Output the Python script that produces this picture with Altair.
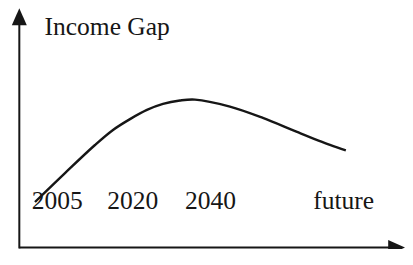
import altair as alt
import pandas as pd

# Curve (abstract units: 0-100 on both axes)
curve_x = [6.8, 14.36, 21.91, 26.45, 30.73, 35.0, 39.04, 43.3, 47.1, 55.9, 64.2, 72.8, 81.1, 85.1]
curve_y = [19.5, 31.5, 43.15, 49.4, 53.9, 57.7, 60.2, 61.6, 62.0, 59.1, 54.4, 48.6, 43.2, 40.9]

# Timeline labels and where they sit along x (same units)
tick_labels = ["2005", "2020", "2040", "future"]
tick_pos = [6.0, 25.0, 44.6, 76.9]
tick_row = 16.5

title_text = "Income Gap"
title_pos = (9.2, 88.8)

origin = (2.85, 0.62)
x_end = 97.0
y_end = 96.35
x_arrow = 97.9

FONT = "Liberation Serif"
INK = "#161616"

xs = alt.Scale(domain=[0, 100], nice=False, zero=False)
ys = alt.Scale(domain=[0, 100], nice=False, zero=False)

def X(f):
    return alt.X(f, type="quantitative", scale=xs, axis=None)

def Y(f):
    return alt.Y(f, type="quantitative", scale=ys, axis=None)

curve_df = pd.DataFrame({"x": curve_x, "y": curve_y})
curve = alt.Chart(curve_df).mark_line(
    color=INK, strokeWidth=2.4, interpolate="catmull-rom"
).encode(x=X("x"), y=Y("y"))

axes_df = pd.DataFrame({
    "x": [origin[0], origin[0]],
    "y": [origin[1] - 0.4, origin[1]],
    "x2": [origin[0], x_end],
    "y2": [y_end, origin[1]],
})
axes = alt.Chart(axes_df).mark_rule(color=INK, strokeWidth=2).encode(
    x=X("x"), y=Y("y"), x2="x2", y2="y2"
)

up_df = pd.DataFrame({"x": [origin[0]], "y": [y_end]})
up_arrow = alt.Chart(up_df).mark_point(
    shape="M0,-1L0.88,1L-0.88,1Z", filled=True, size=289, color=INK, opacity=1, strokeWidth=0
).encode(x=X("x"), y=Y("y"))

right_df = pd.DataFrame({"x": [x_arrow], "y": [origin[1]]})
right_arrow = alt.Chart(right_df).mark_point(
    shape="M1,0L-1,-0.88L-1,0.88Z", filled=True, size=289, color=INK, opacity=1, strokeWidth=0
).encode(x=X("x"), y=Y("y"))

ticks_df = pd.DataFrame({"label": tick_labels, "x": tick_pos, "y": [tick_row] * len(tick_labels)})
ticks = alt.Chart(ticks_df).mark_text(
    font=FONT, fontSize=25.5, color=INK, align="left", baseline="alphabetic"
).encode(x=X("x"), y=Y("y"), text="label:N")

title_df = pd.DataFrame({"label": [title_text], "x": [title_pos[0]], "y": [title_pos[1]]})
title = alt.Chart(title_df).mark_text(
    font=FONT, fontSize=25.5, color=INK, align="left", baseline="alphabetic"
).encode(x=X("x"), y=Y("y"), text="label:N")

chart = alt.layer(axes, up_arrow, right_arrow, curve, ticks, title).properties(
    width=397, height=241, padding=0, autosize=alt.AutoSizeParams(type="none")
).configure_view(stroke=None)

chart.save("out.html", embed_options={"renderer": "svg", "actions": False})
